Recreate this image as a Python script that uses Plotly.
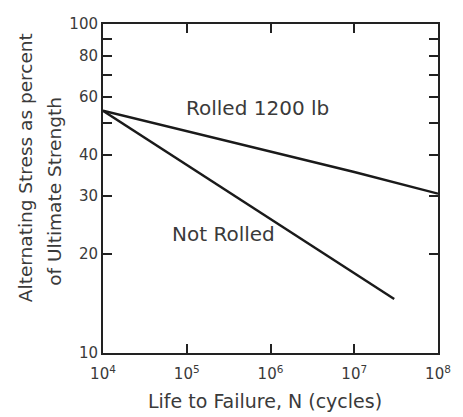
import plotly.graph_objects as go

# S-N curves: alternating stress (% of ultimate strength) vs. cycles to failure
rolled_cycles = [1e4, 1e5, 1e6, 1e7, 1e8]
rolled_stress = [54.5, 47.2, 41.0, 35.5, 30.5]

not_rolled_cycles = [1e4, 1e5, 1e6, 1e7, 3e7]
not_rolled_stress = [54.5, 37.3, 25.6, 17.5, 14.6]

y_ticks = [10, 20, 30, 40, 50, 60, 70, 80, 90, 100]
y_tick_text = ["10", "20", "30", "40", "", "60", "", "80", "", "100"]
x_ticks = [1e4, 1e5, 1e6, 1e7, 1e8]
x_tick_text = ["10<sup>4</sup>", "10<sup>5</sup>", "10<sup>6</sup>", "10<sup>7</sup>", "10<sup>8</sup>"]

FONT = "DejaVu Sans"
TXT = "#3a3a3a"
INK = "#1a1a1a"

fig = go.Figure()
fig.add_trace(go.Scatter(x=rolled_cycles, y=rolled_stress, mode="lines",
                         line=dict(color=INK, width=2.4), showlegend=False))
fig.add_trace(go.Scatter(x=not_rolled_cycles, y=not_rolled_stress, mode="lines",
                         line=dict(color=INK, width=2.4), showlegend=False))

# curve labels
fig.add_annotation(x=5.84, y=1.745, xref="x", yref="y", text="Rolled 1200 lb",
                   showarrow=False, font=dict(family=FONT, size=20, color=TXT))
fig.add_annotation(x=5.44, y=1.362, xref="x", yref="y", text="Not Rolled",
                   showarrow=False, font=dict(family=FONT, size=20, color=TXT))

# axis titles
fig.add_annotation(x=25, y=168, xref="paper", yref="paper", text="Alternating Stress as percent",
                   textangle=-90, showarrow=False, font=dict(family=FONT, size=18.5, color=TXT))
fig.add_annotation(x=53, y=191, xref="paper", yref="paper", text="of Ultimate Strength",
                   textangle=-90, showarrow=False, font=dict(family=FONT, size=18.5, color=TXT))
fig.add_annotation(x=267, y=401, xref="paper", yref="paper", text="Life to Failure, N (cycles)",
                   showarrow=False, font=dict(family=FONT, size=19, color=TXT))

axis_common = dict(showgrid=False, zeroline=False, showline=True, linecolor="#222",
                   linewidth=2, mirror="ticks", ticks="inside", ticklen=9,
                   tickwidth=1.5, tickcolor="#222")

fig.update_xaxes(type="log", range=[4, 8], tickvals=x_ticks, ticktext=x_tick_text,
                 tickfont=dict(family=FONT, size=15, color=TXT), ticklabelstandoff=6,
                 **axis_common)
fig.update_yaxes(type="log", range=[1, 2], tickvals=y_ticks, ticktext=y_tick_text,
                 tickfont=dict(family=FONT, size=15, color=TXT), **axis_common)

fig.update_layout(width=463, height=417, margin=dict(l=103, r=20, t=24, b=64),
                  plot_bgcolor="white", paper_bgcolor="white")

# place paper-coordinate annotations by pixel position
W, H = 463, 417
pw, ph = W - 103 - 20, H - 24 - 64
for a in fig.layout.annotations:
    if a.xref == "paper":
        a.x = (a.x - 103) / pw
        a.y = (H - 64 - a.y) / ph
        a.xanchor = "center"
        a.yanchor = "middle"

fig.write_html("out.html")
